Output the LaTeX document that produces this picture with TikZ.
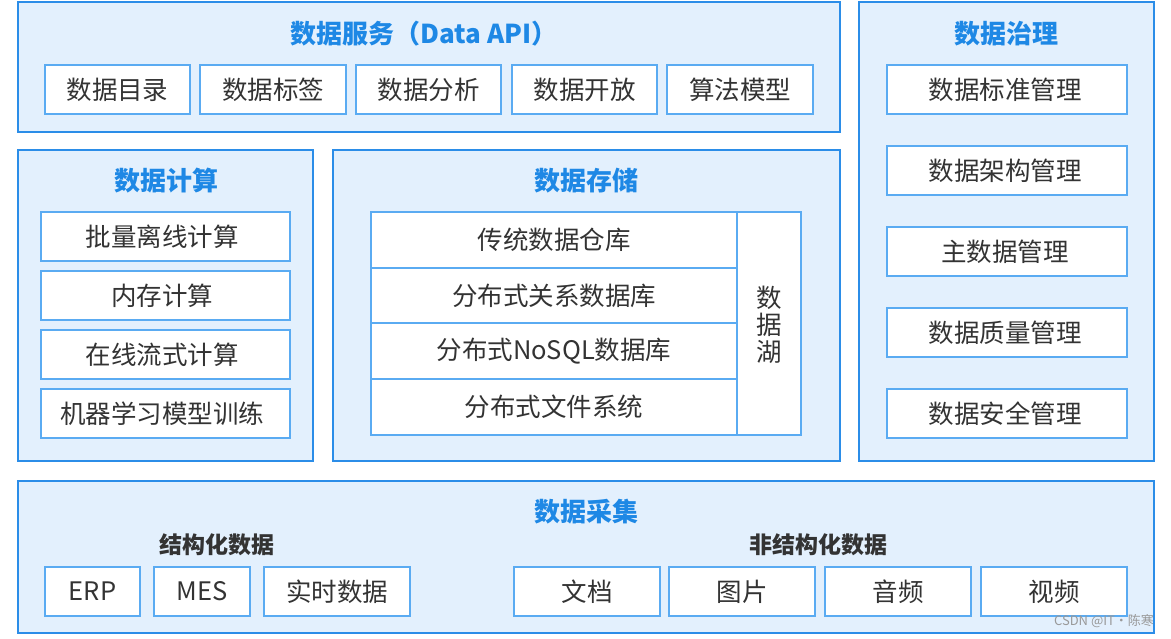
\documentclass[tikz,border=0pt]{standalone}
\usepackage{fontspec}
\setmainfont{Noto Sans CJK SC}
\definecolor{panelfill}{HTML}{E3F0FD}
\definecolor{panelline}{HTML}{2B8DE8}
\definecolor{boxline}{HTML}{5AABF2}
\definecolor{titleblue}{HTML}{1E88E5}
\definecolor{txt}{HTML}{333333}
\begin{document}
\begin{tikzpicture}[x=1pt,y=-1pt,
  panel/.style={draw=panelline,fill=panelfill,line width=1.2pt},
  item/.style={draw=boxline,fill=white,line width=1.2pt},
  ttl/.style={font=\fontsize{26}{28}\selectfont\bfseries,text=titleblue},
  lbl/.style={font=\fontsize{25.5}{28}\selectfont,text=txt},
  sub/.style={font=\fontsize{23}{25}\selectfont\bfseries,text=txt}]
\useasboundingbox (0,0) rectangle (1171,639);
\fill[white] (0,0) rectangle (1171,639);
% panels
\draw[panel] (18,2) rectangle (840,132);
\draw[panel] (859,2) rectangle (1154,461);
\draw[panel] (18,150) rectangle (313,461);
\draw[panel] (333,150) rectangle (840,461);
\draw[panel] (18,481) rectangle (1154,633);
% titles
\node[ttl] (tsvc) at (424,34) {数据服务（Data API）};
\node[ttl] (tgov) at (1006,34) {数据治理};
\node[ttl] (tcmp) at (166,181) {数据计算};
\node[ttl] (tsto) at (586,181) {数据存储};
\node[ttl] (tcol) at (586,512) {数据采集};
% service items
\foreach \a/\b/\t [count=\i] in {45/190/数据目录,200/346/数据标签,356/501/数据分析,512/657/数据开放,667/813/算法模型}{
  \draw[item] (\a,65) rectangle (\b,114);
  \node[lbl] (s\i) at ({(\a+\b)/2},89.5) {\t};
}
% governance items
\foreach \a/\b/\t [count=\i] in {65/114/数据标准管理,146/195/数据架构管理,227/276/主数据管理,308/357/数据质量管理,389/438/数据安全管理}{
  \draw[item] (887,\a) rectangle (1127,\b);
  \node[lbl] (g\i) at (1005,{(\a+\b)/2}) {\t};
}
% compute items
\foreach \a/\b/\t [count=\i] in {212/261/批量离线计算,271/320/内存计算,330/379/在线流式计算,389/438/机器学习模型训练}{
  \draw[item] (41,\a) rectangle (290,\b);
  \node[lbl] (c\i) at (162,{(\a+\b)/2}) {\t};
}
% storage table
\draw[item] (371,212) rectangle (801,435);
\draw[boxline,line width=1.2pt] (737,212) -- (737,435);
\foreach \y in {268,323,379}{\draw[boxline,line width=1.2pt] (371,\y) -- (737,\y);}
\node[lbl] (st1) at (554,240) {传统数据仓库};
\node[lbl] (st2) at (554,295.5) {分布式关系数据库};
\node[lbl] (st3) at (554,351) {分布式NoSQL数据库};
\node[lbl] (st4) at (554,407) {分布式文件系统};
\node[lbl,align=center,font=\fontsize{25.5}{27}\selectfont] (lake) at (769,325) {数\\据\\湖};
% collection
\node[sub] (struct) at (217,545) {结构化数据};
\node[sub] (unstruct) at (818,545) {非结构化数据};
\foreach \a/\b/\t [count=\i] in {45/140/ERP,154/250/MES,264/410/实时数据,514/660/文档,669/815/图片,825/971/音频,981/1127/视频}{
  \draw[item] (\a,567) rectangle (\b,616);
  \node[lbl] (d\i) at ({(\a+\b)/2},591.5) {\t};
}
\node[font=\fontsize{13}{14}\selectfont,text=black!40,inner sep=0pt] (wm) at (1104,621) {CSDN @IT·陈寒};
\end{tikzpicture}
\end{document}
